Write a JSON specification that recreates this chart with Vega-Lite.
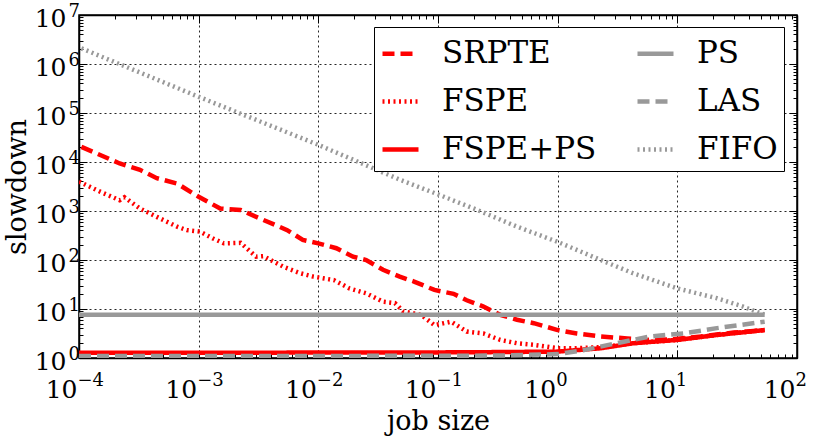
{
  "$schema": "https://vega.github.io/schema/vega-lite/v6.json",
  "autosize": "none",
  "width": 718,
  "height": 343,
  "padding": {"left": 79, "top": 15, "right": 21, "bottom": 78},
  "config": {
    "view": {"stroke": "black", "strokeWidth": 1.5},
    "font": "DejaVu Serif",
    "axis": {
      "domainColor": "black",
      "domainWidth": 1.5,
      "tickColor": "black",
      "tickWidth": 1,
      "gridColor": "black",
      "gridDash": [2, 3],
      "gridWidth": 1,
      "labelFont": "DejaVu Serif",
      "labelColor": "black",
      "labelOverlap": false,
      "labelFlush": false,
      "labelBound": false,
      "titleFont": "DejaVu Serif",
      "titleColor": "black"
    },
    "legend": {
      "labelFont": "DejaVu Serif",
      "labelFontSize": 31,
      "labelColor": "black",
      "labelLimit": 400
    }
  },
  "data": {
    "values": [
      {"policy": "SRPTE", "size": 0.0001047, "slowdown": 20400},
      {"policy": "SRPTE", "size": 0.0002188, "slowdown": 9333},
      {"policy": "SRPTE", "size": 0.0003236, "slowdown": 6918},
      {"policy": "SRPTE", "size": 0.0004467, "slowdown": 4677},
      {"policy": "SRPTE", "size": 0.0006607, "slowdown": 3631},
      {"policy": "SRPTE", "size": 0.001, "slowdown": 1950},
      {"policy": "SRPTE", "size": 0.001514, "slowdown": 1122},
      {"policy": "SRPTE", "size": 0.002239, "slowdown": 1047},
      {"policy": "SRPTE", "size": 0.003236, "slowdown": 708},
      {"policy": "SRPTE", "size": 0.005495, "slowdown": 407},
      {"policy": "SRPTE", "size": 0.007413, "slowdown": 257},
      {"policy": "SRPTE", "size": 0.01, "slowdown": 219},
      {"policy": "SRPTE", "size": 0.01413, "slowdown": 174},
      {"policy": "SRPTE", "size": 0.0195, "slowdown": 117},
      {"policy": "SRPTE", "size": 0.0251, "slowdown": 100},
      {"policy": "SRPTE", "size": 0.0347, "slowdown": 63.1},
      {"policy": "SRPTE", "size": 0.0479, "slowdown": 45.7},
      {"policy": "SRPTE", "size": 0.0631, "slowdown": 36.3},
      {"policy": "SRPTE", "size": 0.0933, "slowdown": 24.5},
      {"policy": "SRPTE", "size": 0.1349, "slowdown": 20.4},
      {"policy": "SRPTE", "size": 0.1738, "slowdown": 15.1},
      {"policy": "SRPTE", "size": 0.2399, "slowdown": 11.2},
      {"policy": "SRPTE", "size": 0.3311, "slowdown": 7.59},
      {"policy": "SRPTE", "size": 0.4571, "slowdown": 6.03},
      {"policy": "SRPTE", "size": 0.631, "slowdown": 5.13},
      {"policy": "SRPTE", "size": 1, "slowdown": 3.72},
      {"policy": "SRPTE", "size": 1.445, "slowdown": 3.16},
      {"policy": "SRPTE", "size": 2.291, "slowdown": 2.75},
      {"policy": "SRPTE", "size": 3.802, "slowdown": 2.51},
      {"policy": "SRPTE", "size": 5.623, "slowdown": 2.34},
      {"policy": "SRPTE", "size": 8.913, "slowdown": 2.4},
      {"policy": "SRPTE", "size": 15.85, "slowdown": 2.75},
      {"policy": "SRPTE", "size": 29.5, "slowdown": 3.31},
      {"policy": "SRPTE", "size": 53.7, "slowdown": 3.72},

      {"policy": "FSPE", "size": 0.0001, "slowdown": 3981},
      {"policy": "FSPE", "size": 0.0001514, "slowdown": 2455},
      {"policy": "FSPE", "size": 0.0002188, "slowdown": 1660},
      {"policy": "FSPE", "size": 0.0002399, "slowdown": 1905},
      {"policy": "FSPE", "size": 0.0003236, "slowdown": 1122},
      {"policy": "FSPE", "size": 0.0004467, "slowdown": 759},
      {"policy": "FSPE", "size": 0.0006607, "slowdown": 479},
      {"policy": "FSPE", "size": 0.0007943, "slowdown": 407},
      {"policy": "FSPE", "size": 0.001023, "slowdown": 380},
      {"policy": "FSPE", "size": 0.001318, "slowdown": 275},
      {"policy": "FSPE", "size": 0.001622, "slowdown": 219},
      {"policy": "FSPE", "size": 0.002239, "slowdown": 224},
      {"policy": "FSPE", "size": 0.00302, "slowdown": 117},
      {"policy": "FSPE", "size": 0.003467, "slowdown": 120},
      {"policy": "FSPE", "size": 0.005129, "slowdown": 72.4},
      {"policy": "FSPE", "size": 0.007079, "slowdown": 53.7},
      {"policy": "FSPE", "size": 0.00912, "slowdown": 45.7},
      {"policy": "FSPE", "size": 0.01349, "slowdown": 38.9},
      {"policy": "FSPE", "size": 0.0182, "slowdown": 26.3},
      {"policy": "FSPE", "size": 0.0251, "slowdown": 20.9},
      {"policy": "FSPE", "size": 0.0347, "slowdown": 14.1},
      {"policy": "FSPE", "size": 0.0437, "slowdown": 13.2},
      {"policy": "FSPE", "size": 0.0513, "slowdown": 8.91},
      {"policy": "FSPE", "size": 0.0724, "slowdown": 7.59},
      {"policy": "FSPE", "size": 0.0933, "slowdown": 4.68},
      {"policy": "FSPE", "size": 0.1288, "slowdown": 5.5},
      {"policy": "FSPE", "size": 0.1738, "slowdown": 3.47},
      {"policy": "FSPE", "size": 0.2399, "slowdown": 3.16},
      {"policy": "FSPE", "size": 0.3311, "slowdown": 2.34},
      {"policy": "FSPE", "size": 0.4571, "slowdown": 2.0},
      {"policy": "FSPE", "size": 0.631, "slowdown": 1.86},
      {"policy": "FSPE", "size": 1, "slowdown": 1.58},
      {"policy": "FSPE", "size": 1.349, "slowdown": 1.58},
      {"policy": "FSPE", "size": 2.291, "slowdown": 1.66},
      {"policy": "FSPE", "size": 4.266, "slowdown": 2.0},
      {"policy": "FSPE", "size": 10, "slowdown": 2.34},
      {"policy": "FSPE", "size": 21.4, "slowdown": 2.95},
      {"policy": "FSPE", "size": 53.7, "slowdown": 3.72},

      {"policy": "FSPE+PS", "size": 0.0001, "slowdown": 1.28},
      {"policy": "FSPE+PS", "size": 0.001, "slowdown": 1.28},
      {"policy": "FSPE+PS", "size": 0.01, "slowdown": 1.29},
      {"policy": "FSPE+PS", "size": 0.1, "slowdown": 1.3},
      {"policy": "FSPE+PS", "size": 0.316, "slowdown": 1.32},
      {"policy": "FSPE+PS", "size": 1, "slowdown": 1.35},
      {"policy": "FSPE+PS", "size": 2.291, "slowdown": 1.58},
      {"policy": "FSPE+PS", "size": 4.266, "slowdown": 2.0},
      {"policy": "FSPE+PS", "size": 10, "slowdown": 2.34},
      {"policy": "FSPE+PS", "size": 21.4, "slowdown": 2.95},
      {"policy": "FSPE+PS", "size": 53.7, "slowdown": 3.72},

      {"policy": "PS", "size": 0.0001, "slowdown": 7.6},
      {"policy": "PS", "size": 0.01, "slowdown": 7.6},
      {"policy": "PS", "size": 1, "slowdown": 7.6},
      {"policy": "PS", "size": 53.7, "slowdown": 7.6},

      {"policy": "LAS", "size": 0.0001, "slowdown": 1.1},
      {"policy": "LAS", "size": 0.01, "slowdown": 1.1},
      {"policy": "LAS", "size": 0.316, "slowdown": 1.12},
      {"policy": "LAS", "size": 1, "slowdown": 1.2},
      {"policy": "LAS", "size": 1.66, "slowdown": 1.45},
      {"policy": "LAS", "size": 3.09, "slowdown": 2.0},
      {"policy": "LAS", "size": 5.89, "slowdown": 2.75},
      {"policy": "LAS", "size": 11.2, "slowdown": 3.16},
      {"policy": "LAS", "size": 21.4, "slowdown": 4.07},
      {"policy": "LAS", "size": 53.7, "slowdown": 5.5},

      {"policy": "FIFO", "size": 0.0001047, "slowdown": 2090000},
      {"policy": "FIFO", "size": 0.001, "slowdown": 214000},
      {"policy": "FIFO", "size": 0.01, "slowdown": 22400},
      {"policy": "FIFO", "size": 0.049, "slowdown": 4266},
      {"policy": "FIFO", "size": 0.1023, "slowdown": 2138},
      {"policy": "FIFO", "size": 0.2138, "slowdown": 1047},
      {"policy": "FIFO", "size": 0.4571, "slowdown": 479},
      {"policy": "FIFO", "size": 1, "slowdown": 234},
      {"policy": "FIFO", "size": 2.291, "slowdown": 100},
      {"policy": "FIFO", "size": 4.266, "slowdown": 53.7},
      {"policy": "FIFO", "size": 10, "slowdown": 26.3},
      {"policy": "FIFO", "size": 21.4, "slowdown": 16.6},
      {"policy": "FIFO", "size": 35.5, "slowdown": 11.2},
      {"policy": "FIFO", "size": 53.7, "slowdown": 7.59}
    ]
  },
  "layer": [
    {
      "mark": {"type": "line", "strokeWidth": 4.5, "clip": true},
      "encoding": {
        "x": {
          "field": "size",
          "type": "quantitative",
          "scale": {"type": "log", "domain": [0.0001, 100]},
          "axis": {
            "title": "job size",
            "titleFontSize": 27,
            "titleFontWeight": "normal",
            "titlePadding": 6,
            "labelFontSize": 25,
            "labelAlign": "right",
            "labelBaseline": "alphabetic",
            "labelPadding": 39,
            "labelOffset": -2,
            "ticks": false,
            "values": [0.0001, 0.001, 0.01, 0.1, 1, 10, 100],
            "labelExpr": "'10'",
            "grid": true,
            "gridOpacity": 0.85
          }
        },
        "y": {
          "field": "slowdown",
          "type": "quantitative",
          "scale": {"type": "log", "domain": [1, 10000000]},
          "axis": {
            "title": "slowdown",
            "titleFontSize": 27,
            "titleFontWeight": "normal",
            "titlePadding": 3,
            "labelFontSize": 25,
            "labelAlign": "right",
            "labelBaseline": "alphabetic",
            "labelOffset": 11,
            "labelPadding": 13,
            "ticks": false,
            "values": [1, 10, 100, 1000, 10000, 100000, 1000000, 10000000],
            "labelExpr": "'10'",
            "grid": true,
            "gridOpacity": 0.85
          }
        },
        "color": {
          "field": "policy",
          "type": "nominal",
          "scale": {
            "domain": ["SRPTE", "FSPE", "FSPE+PS", "PS", "LAS", "FIFO"],
            "range": ["#ff0000", "#ff0000", "#ff0000", "#999999", "#999999", "#999999"]
          },
          "legend": {
            "title": null,
            "orient": "none",
            "legendX": 295,
            "legendY": 12,
            "columns": 2,
            "columnPadding": 31,
            "rowPadding": 12,
            "padding": 6,
            "strokeColor": "black",
            "fillColor": "white",
            "cornerRadius": 0,
            "symbolType": "stroke",
            "symbolSize": 1296,
            "symbolStrokeWidth": 4.5,
            "labelOffset": 21
          }
        },
        "strokeDash": {
          "field": "policy",
          "type": "nominal",
          "scale": {
            "domain": ["SRPTE", "FSPE", "FSPE+PS", "PS", "LAS", "FIFO"],
            "range": [[12, 6], [2, 3.5], [1, 0], [1, 0], [12, 6], [2, 3.5]]
          },
          "legend": {
            "title": null,
            "orient": "none",
            "legendX": 295,
            "legendY": 12,
            "columns": 2,
            "columnPadding": 31,
            "rowPadding": 12,
            "padding": 6,
            "strokeColor": "black",
            "fillColor": "white",
            "cornerRadius": 0,
            "symbolType": "stroke",
            "symbolSize": 1296,
            "symbolStrokeWidth": 4.5,
            "labelOffset": 21
          }
        }
      }
    },
    {
      "mark": {"type": "line", "opacity": 0},
      "encoding": {
        "x": {
          "field": "size",
          "type": "quantitative",
          "scale": {"type": "log", "domain": [0.0001, 100]},
          "axis": {
            "orient": "top",
            "title": null,
            "labels": false,
            "grid": false,
            "values": [0.0001, 0.0002, 0.0003, 0.0004, 0.0005, 0.0006, 0.0007, 0.0008, 0.0009, 0.001, 0.002, 0.003, 0.004, 0.005, 0.006, 0.007, 0.008, 0.009, 0.01, 0.02, 0.03, 0.04, 0.05, 0.06, 0.07, 0.08, 0.09, 0.1, 0.2, 0.3, 0.4, 0.5, 0.6, 0.7, 0.8, 0.9, 1, 2, 3, 4, 5, 6, 7, 8, 9, 10, 20, 30, 40, 50, 60, 70, 80, 90, 100],
            "tickSize": {"condition": {"test": "abs(log(datum.value)/LN10 - round(log(datum.value)/LN10)) < 0.001", "value": -8}, "value": -4}
          }
        },
        "y": {
          "field": "slowdown",
          "type": "quantitative",
          "scale": {"type": "log", "domain": [1, 10000000]},
          "axis": {
            "orient": "right",
            "title": null,
            "labels": false,
            "grid": false,
            "values": [1, 2, 3, 4, 5, 6, 7, 8, 9, 10, 20, 30, 40, 50, 60, 70, 80, 90, 100, 200, 300, 400, 500, 600, 700, 800, 900, 1000, 2000, 3000, 4000, 5000, 6000, 7000, 8000, 9000, 10000, 20000, 30000, 40000, 50000, 60000, 70000, 80000, 90000, 100000, 200000, 300000, 400000, 500000, 600000, 700000, 800000, 900000, 1000000, 2000000, 3000000, 4000000, 5000000, 6000000, 7000000, 8000000, 9000000, 10000000],
            "tickSize": {"condition": {"test": "abs(log(datum.value)/LN10 - round(log(datum.value)/LN10)) < 0.001", "value": -8}, "value": -4}
          }
        },
        "detail": {"field": "policy", "type": "nominal"}
      }
    },
    {
      "mark": {"type": "line", "opacity": 0},
      "encoding": {
        "x": {
          "field": "size",
          "type": "quantitative",
          "scale": {"type": "log", "domain": [0.0001, 100]},
          "axis": {
            "orient": "bottom",
            "title": null,
            "grid": false,
            "domain": false,
            "labelFontSize": 18,
            "labelAlign": "left",
            "labelBaseline": "alphabetic",
            "labelPadding": 35,
            "labelOffset": -2,
            "values": [0.0001, 0.0002, 0.0003, 0.0004, 0.0005, 0.0006, 0.0007, 0.0008, 0.0009, 0.001, 0.002, 0.003, 0.004, 0.005, 0.006, 0.007, 0.008, 0.009, 0.01, 0.02, 0.03, 0.04, 0.05, 0.06, 0.07, 0.08, 0.09, 0.1, 0.2, 0.3, 0.4, 0.5, 0.6, 0.7, 0.8, 0.9, 1, 2, 3, 4, 5, 6, 7, 8, 9, 10, 20, 30, 40, 50, 60, 70, 80, 90, 100],
            "labelExpr": "abs(log(datum.value)/LN10 - round(log(datum.value)/LN10)) < 0.001 ? replace('' + round(log(datum.value)/LN10), '-', '−') : ''",
            "tickSize": {"condition": {"test": "abs(log(datum.value)/LN10 - round(log(datum.value)/LN10)) < 0.001", "value": -8}, "value": -4}
          }
        },
        "y": {
          "field": "slowdown",
          "type": "quantitative",
          "scale": {"type": "log", "domain": [1, 10000000]},
          "axis": {
            "orient": "left",
            "title": null,
            "grid": false,
            "domain": false,
            "labelFontSize": 18,
            "labelAlign": "left",
            "labelBaseline": "alphabetic",
            "labelOffset": 1,
            "labelPadding": 19,
            "values": [1, 2, 3, 4, 5, 6, 7, 8, 9, 10, 20, 30, 40, 50, 60, 70, 80, 90, 100, 200, 300, 400, 500, 600, 700, 800, 900, 1000, 2000, 3000, 4000, 5000, 6000, 7000, 8000, 9000, 10000, 20000, 30000, 40000, 50000, 60000, 70000, 80000, 90000, 100000, 200000, 300000, 400000, 500000, 600000, 700000, 800000, 900000, 1000000, 2000000, 3000000, 4000000, 5000000, 6000000, 7000000, 8000000, 9000000, 10000000],
            "labelExpr": "abs(log(datum.value)/LN10 - round(log(datum.value)/LN10)) < 0.001 ? '' + round(log(datum.value)/LN10) : ''",
            "tickSize": {"condition": {"test": "abs(log(datum.value)/LN10 - round(log(datum.value)/LN10)) < 0.001", "value": -8}, "value": -4}
          }
        },
        "detail": {"field": "policy", "type": "nominal"}
      }
    }
  ],
  "resolve": {"axis": {"x": "independent", "y": "independent"}}
}
